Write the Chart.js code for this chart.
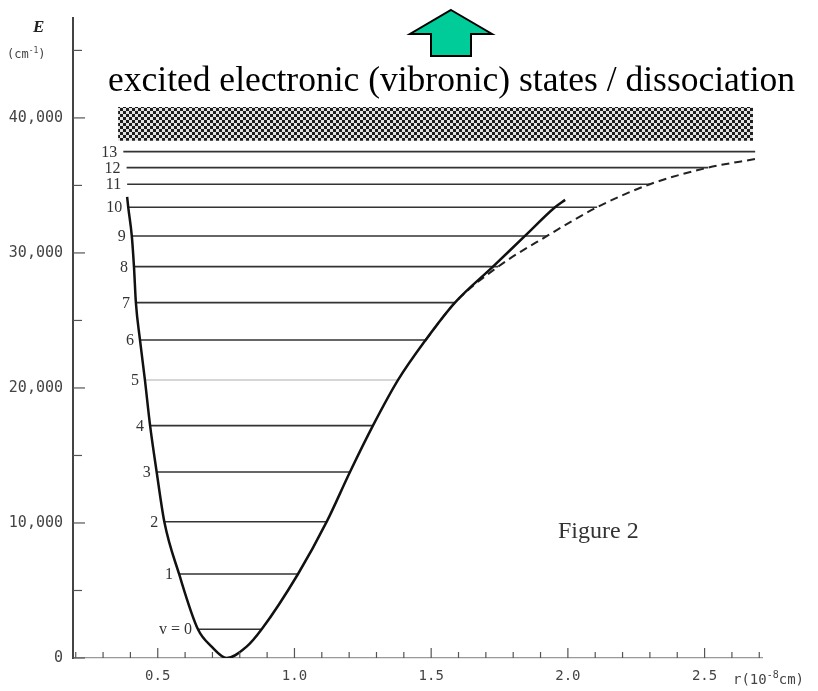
<!DOCTYPE html>
<html>
<head>
<meta charset="utf-8">
<script src="https://cdn.jsdelivr.net/npm/chart.js@4.4.1/dist/chart.umd.min.js"></script>
<style>
  body { margin: 0; background: #fff; }
  #wrap { position: relative; width: 818px; height: 691px; }
  .txt { position: absolute; white-space: nowrap; line-height: 1; color: #111; }
</style>
</head>
<body>
<div id="wrap">
  <canvas id="potChart"></canvas>
  <svg width="818" height="100" style="position:absolute;left:0;top:0">
    <polygon points="451,10 492,34 471,34 471,56 431,56 431,34 410,34" fill="#00cc99" stroke="#000" stroke-width="2" stroke-linejoin="miter"/>
  </svg>
  <div class="txt" style="left:108px;top:58px;font:35.5px 'Liberation Serif';color:#000">excited electronic (vibronic) states / dissociation</div>
  <div class="txt" style="left:558px;top:517px;font:24px 'Liberation Serif';color:#333">Figure 2</div>
  <div class="txt" style="left:33px;top:17px;font:bold italic 17px 'Liberation Serif';color:#222">E</div>
  <div class="txt" style="left:7px;top:46px;font:12px 'DejaVu Sans Mono';color:#444">(cm<sup style="font-size:8px">-1</sup>)</div>
  <div class="txt" style="left:733px;top:669px;font:14px 'DejaVu Sans Mono';color:#444">r(10<sup style="font-size:10px">-8</sup>cm)</div>
</div>
<script>
/* niveles vibracionales */
const levelNames = ['v = 0', '1', '2', '3', '4', '5', '6', '7', '8', '9', '10', '11', '12', '13'];
const levelE = [2126, 6222, 10096, 13778, 17207, 20593, 23556, 26319, 28985, 31259, 33385, 35089, 36319, 37504];
const levelLeft = [0.647, 0.578, 0.524, 0.496, 0.472, 0.453, 0.435, 0.420, 0.413, 0.405, 0.392, 0.388, 0.386, 0.374];
const levelRight = [0.880, 1.013, 1.118, 1.203, 1.287, 1.379, 1.480, 1.587, 1.745, 1.924, 2.107, 2.300, 2.513, 2.685];

/* curva de potencial (solida) */
const potR = [0.388, 0.392, 0.405, 0.413, 0.420, 0.435, 0.453, 0.472, 0.496, 0.524, 0.578, 0.647, 0.697, 0.752, 0.825, 0.880, 1.013, 1.118, 1.203, 1.287, 1.379, 1.480, 1.587, 1.726, 1.843, 1.953, 1.990];
const potE = [34150, 33385, 31259, 28985, 26319, 23556, 20593, 17207, 13778, 10096, 6222, 2126, 840, 0, 840, 2126, 6222, 10096, 13778, 17207, 20593, 23556, 26319, 28985, 31259, 33385, 33930];

/* curva punteada (disociacion) */
const dashR = [1.480, 1.587, 1.745, 1.924, 2.107, 2.300, 2.513, 2.685];
const dashE = [23556, 26319, 28985, 31259, 33385, 35089, 36319, 36960];

/* banda de estados excitados */
const bandR = [0.355, 2.677];
const bandTop = 40815;
const bandBottom = 38300;

/* marcas de los ejes */
const xTicks = [0.2, 0.3, 0.4, 0.5, 0.6, 0.7, 0.8, 0.9, 1.0, 1.1, 1.2, 1.3, 1.4, 1.5, 1.6, 1.7, 1.8, 1.9, 2.0, 2.1, 2.2, 2.3, 2.4, 2.5, 2.6, 2.7];
const xLabels = ['0.5', '1.0', '1.5', '2.0', '2.5'];
const yTicks = [0, 5000, 10000, 15000, 20000, 25000, 30000, 35000, 40000, 45000];
const yLabels = ['0', '10,000', '20,000', '30,000', '40,000'];

const xMin = 0.19, xMax = 2.71;
const yMin = 0, yMax = 47400;

// patron de cuadritos para la banda
const tile = document.createElement('canvas');
tile.width = 6; tile.height = 6;
const tctx = tile.getContext('2d');
tctx.fillStyle = '#e2e2e2'; tctx.fillRect(0, 0, 6, 6);
tctx.fillStyle = '#1e1e1e'; tctx.fillRect(0, 0, 3, 3); tctx.fillRect(3, 3, 3, 3);
const bandPattern = document.getElementById('potChart').getContext('2d').createPattern(tile, 'repeat');

const pts = (xs, ys) => xs.map((v, i) => ({ x: v, y: ys[i] }));
const xLabelFor = v => xLabels.find(s => Math.abs(parseFloat(s) - v) < 1e-6) || '';
const yLabelFor = v => yLabels.find(s => Math.abs(parseFloat(s.replace(/,/g, '')) - v) < 1e-6) || '';

const datasets = [
    {
        data: bandR.map(r => ({ x: r, y: bandTop })),
        borderWidth: 0,
        pointRadius: 0,
        backgroundColor: bandPattern,
        fill: { value: bandBottom }
    },
    {
        data: pts(potR, potE),
        borderColor: '#111',
        borderWidth: 2.5,
        pointRadius: 0,
        cubicInterpolationMode: 'monotone',
        fill: false
    },
    {
        data: pts(dashR, dashE),
        borderColor: '#222',
        borderWidth: 2,
        borderDash: [8, 5],
        pointRadius: 0,
        cubicInterpolationMode: 'monotone',
        fill: false
    }
];
levelE.forEach((e, i) => {
    datasets.push({
        data: [{ x: levelLeft[i], y: e }, { x: levelRight[i], y: e }],
        borderColor: i === 5 ? '#c8c8c8' : '#333',
        borderWidth: 1.6,
        pointRadius: 0,
        fill: false
    });
});

// marcas hacia adentro y etiquetas de niveles
const overlay = {
    id: 'overlay',
    afterDatasetsDraw(chart) {
        const { ctx, chartArea } = chart;
        const x = chart.scales.x, y = chart.scales.y;
        ctx.save();
        ctx.strokeStyle = '#555';
        ctx.lineWidth = 1.2;
        x.ticks.forEach(t => {
            const px = x.getPixelForValue(t.value);
            ctx.beginPath();
            ctx.moveTo(px, chartArea.bottom);
            ctx.lineTo(px, chartArea.bottom - (xLabelFor(t.value) ? 10 : 6));
            ctx.stroke();
        });
        y.ticks.forEach(t => {
            const py = y.getPixelForValue(t.value);
            ctx.beginPath();
            ctx.moveTo(chartArea.left, py);
            ctx.lineTo(chartArea.left + (t.value % 10000 === 0 ? 12 : 9), py);
            ctx.stroke();
        });
        ctx.font = '16px "Liberation Serif"';
        ctx.fillStyle = '#333';
        ctx.textAlign = 'right';
        ctx.textBaseline = 'middle';
        levelNames.forEach((s, i) => {
            ctx.fillText(s, x.getPixelForValue(levelLeft[i]) - 6, y.getPixelForValue(levelE[i]) + 1);
        });
        ctx.restore();
    }
};

const potChart = new Chart(document.getElementById('potChart'), {
    type: 'line',
    data: { datasets: datasets },
    options: {
        responsive: true,
        maintainAspectRatio: false,
        animation: false,
        layout: { padding: { left: 0, right: 56, top: 18, bottom: 0 } },
        plugins: {
            legend: { display: false },
            tooltip: { enabled: false }
        },
        scales: {
            x: {
                type: 'linear',
                min: xMin,
                max: xMax,
                grid: { display: false },
                border: { display: true, color: '#999', width: 1.2 },
                afterBuildTicks: s => { s.ticks = xTicks.map(v => ({ value: v })); },
                ticks: {
                    autoSkip: false,
                    maxRotation: 0,
                    padding: 2,
                    color: '#444',
                    font: { family: 'DejaVu Sans Mono', size: 14 },
                    callback: v => xLabelFor(v)
                },
                afterFit: s => { s.height = 33; }
            },
            y: {
                min: yMin,
                max: yMax,
                grid: { display: false },
                border: { display: true, color: '#444', width: 2 },
                afterBuildTicks: s => { s.ticks = yTicks.map(v => ({ value: v })); },
                ticks: {
                    autoSkip: false,
                    padding: 2,
                    color: '#444',
                    font: { family: 'DejaVu Sans Mono', size: 15 },
                    callback: v => yLabelFor(v)
                },
                afterFit: s => { s.width = 73; }
            }
        }
    },
    plugins: [overlay]
});
</script>
</body>
</html>
